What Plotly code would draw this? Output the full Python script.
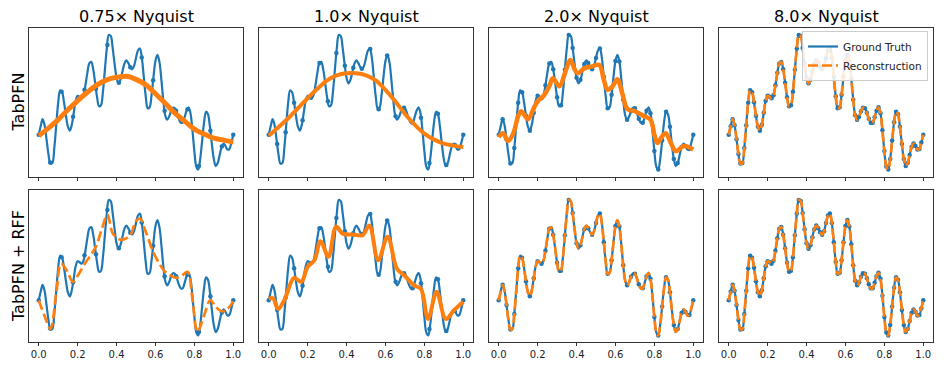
import plotly.graph_objects as go

W, H = 947, 368
OFF = 8  # page body margin in the browser
FW, FH = W - OFF, H - OFF
BLUE = "#1f77b4"
ORANGE = "#ff7f0e"

# ground truth signal, read on a 0.01 grid
gt_x = [i / 100 for i in range(101)]
gt_y = [-0.64, -0.47, -0.33, -0.45, -0.73, -1.03, -1.22, -1.21, -0.91, -0.45,
        0.00, 0.25, 0.21, 0.01, -0.26, -0.48, -0.56, -0.44, -0.20, 0.04,
        0.14, 0.12, 0.09, 0.15, 0.35, 0.60, 0.79, 0.82, 0.67, 0.40,
        0.11, -0.07, -0.05, 0.22, 0.66, 1.09, 1.36, 1.34, 1.10, 0.78,
        0.50, 0.39, 0.46, 0.62, 0.78, 0.85, 0.80, 0.72, 0.67, 0.74,
        0.90, 1.05, 1.09, 0.90, 0.52, 0.13, -0.11, -0.09, 0.16, 0.52,
        0.84, 0.96, 0.83, 0.48, 0.06, -0.25, -0.34, -0.28, -0.17, -0.10,
        -0.11, -0.20, -0.32, -0.40, -0.40, -0.29, -0.16, -0.09, -0.21, -0.55,
        -0.97, -1.28, -1.34, -1.13, -0.76, -0.39, -0.18, -0.23, -0.48, -0.83,
        -1.13, -1.27, -1.21, -1.05, -0.89, -0.82, -0.87, -0.94, -0.93, -0.80,
        -0.64]

# samples for the two low rates
s075_x = [0.0, 0.0588, 0.1176, 0.1765, 0.2353, 0.2941, 0.3529, 0.4118, 0.4706,
          0.5294, 0.5882, 0.6471, 0.7059, 0.7647, 0.8235, 0.8824, 0.9412, 1.0]
s075_y = [-0.64, -1.20, 0.22, -0.28, 0.26, 0.28, 1.16, 0.40, 0.71,
          0.91, 0.45, -0.16, -0.16, -0.13, -1.27, -0.56, -0.88, -0.64]
s10_x = [0.0, 0.0435, 0.087, 0.1304, 0.1739, 0.2174, 0.2609, 0.3043, 0.3478,
         0.3913, 0.4348, 0.4783, 0.5217, 0.5652, 0.6087, 0.6522, 0.6957, 0.7391,
         0.7826, 0.8261, 0.8696, 0.913, 0.9565, 1.0]
s10_y = [-0.64, -0.83, -0.59, 0.00, -0.35, 0.10, 0.80, 0.03, 1.00,
         0.74, 0.70, 0.68, 1.08, -0.13, 0.95, -0.27, -0.10, -0.40,
         -0.30, -1.21, -0.22, -1.25, -0.85, -0.64]

# TabPFN reconstructions
tab075_x = [0, 0.05, 0.1, 0.15, 0.2, 0.25, 0.3, 0.35, 0.4, 0.45, 0.5,
            0.55, 0.6, 0.65, 0.7, 0.75, 0.8, 0.85, 0.9, 0.95, 1.0]
tab075_y = [-0.66, -0.51, -0.34, -0.14, 0.04, 0.21, 0.36, 0.46, 0.51, 0.53, 0.47,
            0.36, 0.18, -0.01, -0.21, -0.37, -0.53, -0.63, -0.71, -0.75, -0.79]
tab10_x = tab075_x
tab10_y = [-0.66, -0.49, -0.31, -0.11, 0.09, 0.28, 0.45, 0.55, 0.59, 0.59, 0.55,
           0.45, 0.26, 0.03, -0.22, -0.44, -0.62, -0.74, -0.82, -0.86, -0.89]
tab20_x = [0, 0.022, 0.048, 0.075, 0.10, 0.116, 0.15, 0.18, 0.2, 0.235, 0.26, 0.278,
           0.312, 0.34, 0.369, 0.39, 0.406, 0.44, 0.48, 0.517, 0.54, 0.56, 0.585,
           0.61, 0.635, 0.662, 0.70, 0.747, 0.78, 0.80, 0.816, 0.84, 0.858, 0.885,
           0.91, 0.952, 1.0]
tab20_y = [-0.69, -0.61, -0.77, -0.61, -0.27, -0.17, -0.33, -0.11, 0.03, 0.16, 0.33, 0.49,
           0.33, 0.59, 0.86, 0.67, 0.59, 0.69, 0.73, 0.76, 0.46, 0.26, 0.33,
           0.47, 0.19, -0.13, -0.17, -0.27, -0.34, -0.64, -0.81, -0.67, -0.61, -0.81,
           -0.97, -0.87, -0.94]

# TabPFN + RFF reconstructions
rff075_x = [0, 0.03, 0.06, 0.09, 0.115, 0.145, 0.176, 0.205, 0.235, 0.265, 0.294,
            0.325, 0.353, 0.38, 0.412, 0.44, 0.471, 0.50, 0.52, 0.55, 0.588, 0.62,
            0.647, 0.675, 0.706, 0.735, 0.765, 0.79, 0.816, 0.85, 0.882, 0.91,
            0.941, 0.97, 1.0]
rff075_y = [-0.64, -0.95, -1.21, -0.50, 0.09, -0.05, -0.27, -0.12, 0.08, 0.25, 0.43,
            0.79, 1.07, 0.70, 0.58, 0.58, 0.66, 0.94, 0.99, 0.73, 0.33, 0.09,
            -0.06, -0.14, -0.19, -0.15, -0.07, -0.61, -1.27, -0.94, -0.64, -0.77,
            -0.86, -0.81, -0.66]
rff10_x = [0, 0.022, 0.048, 0.082, 0.13, 0.167, 0.2, 0.235, 0.266, 0.307, 0.346,
           0.38, 0.44, 0.483, 0.517, 0.563, 0.611, 0.659, 0.696, 0.747, 0.782,
           0.819, 0.863, 0.91, 0.952, 1.0]
rff10_y = [-0.61, -0.60, -0.81, -0.62, -0.19, -0.27, 0.03, 0.16, 0.54, 0.23, 0.83,
           0.69, 0.67, 0.66, 0.85, 0.16, 0.63, -0.01, -0.14, -0.34, -0.41,
           -1.01, -0.47, -1.01, -0.84, -0.67]

titles = ["0.75\u00d7 Nyquist", "1.0\u00d7 Nyquist", "2.0\u00d7 Nyquist", "8.0\u00d7 Nyquist"]
rows = ["TabPFN", "TabPFN + RFF"]

samples = [(s075_x, s075_y), (s10_x, s10_y), (gt_x[::2], gt_y[::2]), (gt_x, gt_y)]
recons = [
    [(tab075_x, tab075_y, "solid", 5), (tab10_x, tab10_y, "solid", 4),
     (tab20_x, tab20_y, "solid", 4.5), (gt_x, gt_y, "10px,4px", 2.7)],
    [(rff075_x, rff075_y, "10px,4px", 2.7), (rff10_x, rff10_y, "solid", 4),
     (gt_x, gt_y, "10px,4px", 2.7), (gt_x, gt_y, "10px,4px", 2.7)],
]

# pixel boxes in the target window; shifted by the page margin below
col_px = [(29, 243), (259, 473), (489, 703), (719, 933)]
row_px = [(28, 177), (190, 342)]
yranges = [[-1.49, 1.50], [-1.47, 1.56]]


def px(v):
    return (v - OFF) / FW


def py(v):
    return (FH - (v - OFF)) / FH


fig = go.Figure()
layout = {}
for r in range(2):
    for c in range(4):
        k = r * 4 + c + 1
        xa, ya = f"x{k}", f"y{k}"
        first = (r == 0 and c == 3)
        fig.add_trace(go.Scatter(x=gt_x, y=gt_y, mode="lines", name="Ground Truth",
                                 line=dict(color=BLUE, width=2.2, shape="spline"),
                                 xaxis=xa, yaxis=ya, showlegend=first))
        sx, sy = samples[c]
        fig.add_trace(go.Scatter(x=sx, y=sy, mode="markers", marker=dict(color=BLUE, size=4.5),
                                 xaxis=xa, yaxis=ya, showlegend=False))
        rx, ry, dash, w = recons[r][c]
        fig.add_trace(go.Scatter(x=rx, y=ry, mode="lines", name="Reconstruction",
                                 line=dict(color=ORANGE, width=w, dash=dash, shape="spline"),
                                 xaxis=xa, yaxis=ya, showlegend=False))
        x0, x1 = col_px[c]
        y0, y1 = row_px[r]
        layout[f"xaxis{k}"] = dict(
            domain=[px(x0), px(x1)], range=[-0.05, 1.05], anchor=ya,
            tickvals=[0, 0.2, 0.4, 0.6, 0.8, 1.0],
            ticktext=["0.0", "0.2", "0.4", "0.6", "0.8", "1.0"],
            showticklabels=(r == 1), ticks="outside", ticklen=3.5, tickwidth=0.8,
            tickcolor="#333", showline=True, mirror=True, linecolor="#333", linewidth=0.8,
            showgrid=False, zeroline=False, tickfont=dict(size=10, color="#222"))
        layout[f"yaxis{k}"] = dict(
            domain=[py(y1), py(y0)], range=yranges[r], anchor=xa,
            showticklabels=False, ticks="", showline=True, mirror=True,
            linecolor="#333", linewidth=0.8, showgrid=False, zeroline=False)

# legend entry for the dashed reconstruction
fig.add_trace(go.Scatter(x=[None], y=[None], mode="lines", name="Reconstruction",
                         line=dict(color=ORANGE, width=2.7, dash="10px,4px"),
                         xaxis="x4", yaxis="y4", showlegend=True))

ann = []
for c, t in enumerate(titles):
    x0, x1 = col_px[c]
    ann.append(dict(text=t, x=px((x0 + x1) / 2), y=py(16), xref="paper", yref="paper",
                    showarrow=False, xanchor="center", yanchor="middle",
                    font=dict(size=16, color="black")))
for r, t in enumerate(rows):
    y0, y1 = row_px[r]
    ann.append(dict(text=t, x=px(18), y=py((y0 + y1) / 2), xref="paper", yref="paper",
                    showarrow=False, xanchor="center", yanchor="middle", textangle=-90,
                    font=dict(size=16, color="black")))

fig.update_layout(
    width=FW, height=FH, margin=dict(l=0, r=0, t=0, b=0),
    paper_bgcolor="white", plot_bgcolor="white",
    font=dict(family="DejaVu Sans", color="#222"),
    annotations=ann,
    legend=dict(x=px(928), y=py(31), xanchor="right", yanchor="top",
                bgcolor="rgba(255,255,255,0.85)", bordercolor="#ccc", borderwidth=1,
                font=dict(size=10.5, color="#222"), tracegroupgap=0, itemwidth=30),
    **layout)

fig.write_html("out.html")
